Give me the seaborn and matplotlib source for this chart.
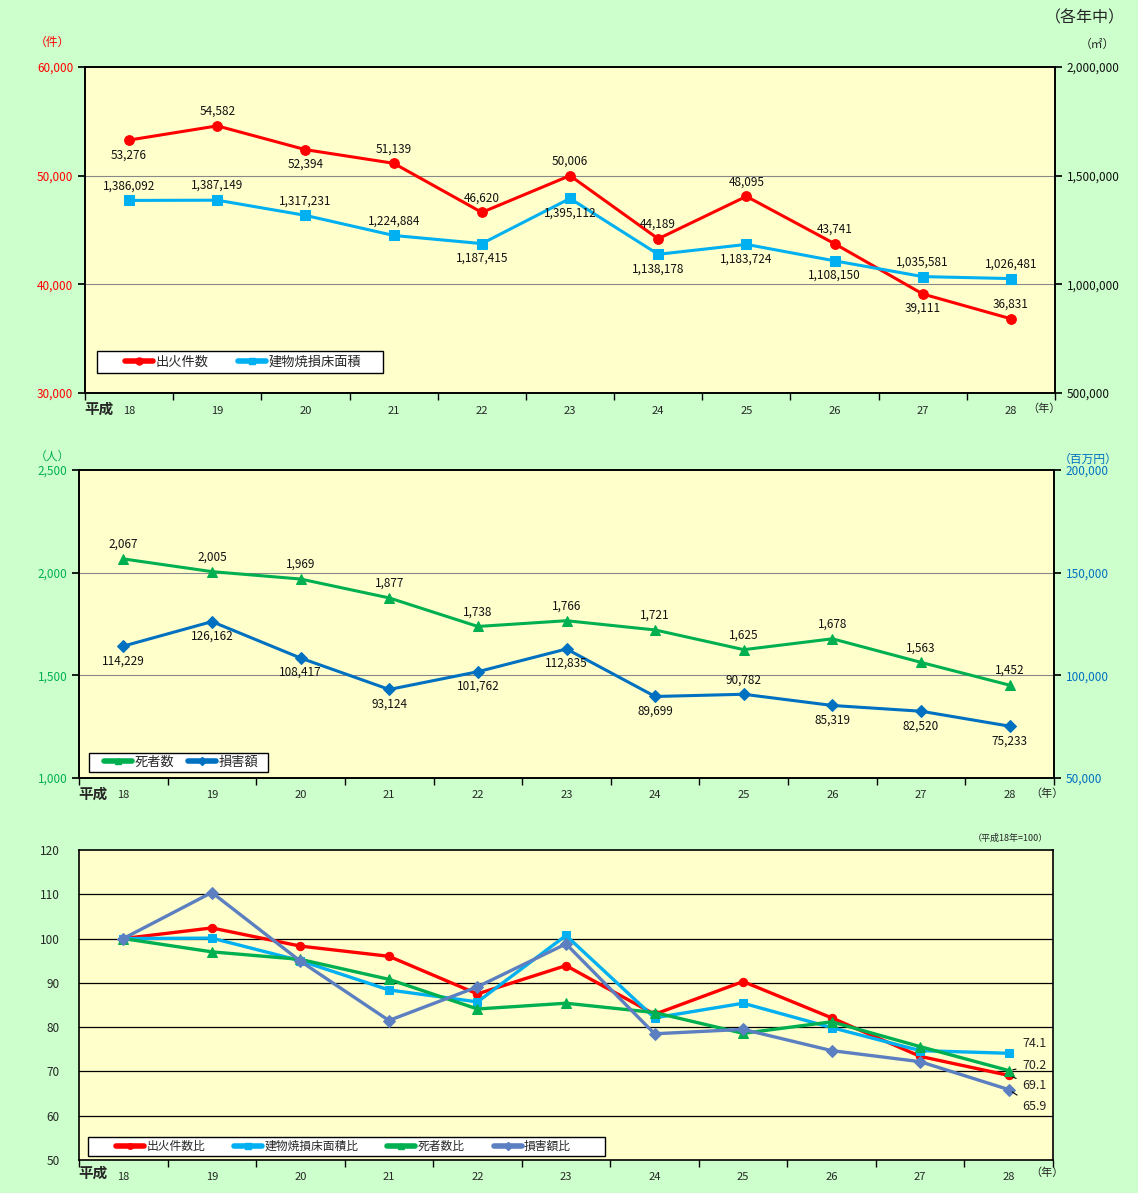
import matplotlib
matplotlib.use("Agg")
import matplotlib.pyplot as plt
import seaborn as sns
import numpy as np
import pandas as pd
from matplotlib.lines import Line2D
from matplotlib.patches import Rectangle

sns.set_theme(style="white")
plt.rcParams['font.family'] = ['Noto Sans CJK JP', 'DejaVu Sans']

years = ["18", "19", "20", "21", "22", "23", "24", "25", "26", "27", "28"]
fires = [53276, 54582, 52394, 51139, 46620, 50006, 44189, 48095, 43741, 39111, 36831]
area = [1386092, 1387149, 1317231, 1224884, 1187415, 1395112, 1138178, 1183724, 1108150, 1035581, 1026481]
deaths = [2067, 2005, 1969, 1877, 1738, 1766, 1721, 1625, 1678, 1563, 1452]
damage = [114229, 126162, 108417, 93124, 101762, 112835, 89699, 90782, 85319, 82520, 75233]
fires_ratio = [100, 102.4, 98.3, 96.0, 87.5, 93.9, 82.9, 90.3, 82.1, 73.4, 69.1]
area_ratio = [100, 100.1, 95.0, 88.4, 85.7, 100.7, 82.1, 85.4, 79.9, 74.7, 74.1]
deaths_ratio = [100, 97.0, 95.3, 90.8, 84.1, 85.4, 83.3, 78.6, 81.2, 75.6, 70.2]
damage_ratio = [100, 110.4, 94.9, 81.5, 89.1, 98.8, 78.5, 79.5, 74.7, 72.2, 65.9]

# label placement: 1 = above, -1 = below
fires_pos = [-1, 1, -1, 1, 1, 1, 1, 1, 1, -1, 1]
area_pos = [1, 1, 1, 1, -1, -1, -1, -1, -1, 1, 1]
deaths_pos = [1] * 11
damage_pos = [-1, -1, -1, -1, -1, -1, -1, 1, -1, -1, -1]

RED = "#FF0000"
CYAN = "#00B0F0"
GREEN = "#00B050"
BLUE = "#0070C0"
STEEL = "#5B7FC0"
BG = "#CCFFCC"
PANEL = "#FFFFCC"

W, H = 1138, 1193
fig = plt.figure(figsize=(W / 100, H / 100), dpi=100, facecolor=BG)

x = np.arange(len(years))
df = pd.DataFrame({"x": x, "fires": fires, "area": area, "deaths": deaths, "damage": damage,
                   "fr": fires_ratio, "ar": area_ratio, "dr": deaths_ratio, "dmr": damage_ratio})

TICK_FS = 8.5
LABEL_FS = 8.5


def rect(l, t, r, b):
    return [l / W, 1 - b / H, (r - l) / W, (b - t) / H]


def setup_x(ax, heisei_x, nen_x, label_y):
    ax.set_xlim(-0.5, len(years) - 0.5)
    ax.set_xticks(np.arange(-0.5, len(years) + 0.5, 1))
    ax.set_xticklabels([])
    ax.set_xticks(x, minor=True)
    ax.set_xticklabels(years, minor=True, fontsize=8)
    ax.tick_params(axis="x", which="major", direction="out", length=5, width=1, color="black", bottom=True)
    ax.tick_params(axis="x", which="minor", length=0, pad=9)
    fig.text(heisei_x / W, 1 - label_y / H, "平成", fontsize=10.5, ha="left", va="center", fontweight="bold")
    fig.text(nen_x / W, 1 - label_y / H, "（年）", fontsize=8, ha="left", va="center")


def style_axes(ax):
    ax.set_facecolor(PANEL)
    for s in ax.spines.values():
        s.set_color("black")
        s.set_linewidth(1.2)


def annot(ax, xs, ys, pos, fmt="{:,}", dy=10.5):
    for xi, yi, p in zip(xs, ys, pos):
        ax.annotate(fmt.format(yi), (xi, yi), xytext=(0, dy * p), textcoords="offset points",
                    ha="center", va="center", fontsize=LABEL_FS, color="#111111")


def boxed_legend(ax, handles, labels, box, first_x, fs, colsp):
    l, t, r, b = box
    ax.add_patch(Rectangle((l / W, 1 - b / H), (r - l) / W, (b - t) / H, transform=fig.transFigure,
                           facecolor="white", edgecolor="black", lw=1, zorder=4, clip_on=False))
    leg = ax.legend(handles, labels, loc="center left", bbox_to_anchor=(first_x / W, 1 - (t + b) / 2 / H),
                    bbox_transform=fig.transFigure, ncol=len(handles), fontsize=fs, frameon=False,
                    handlelength=28 * 0.72 / fs, handletextpad=0.2, columnspacing=colsp,
                    borderpad=0, borderaxespad=0)
    leg.set_zorder(6)
    return leg

# ---------------- Panel 1 ----------------
ax1 = fig.add_axes(rect(85, 67, 1055, 393))
style_axes(ax1)
ax1.set_ylim(30000, 60000)
ax1.set_yticks([30000, 40000, 50000, 60000])
ax1.set_yticklabels(["30,000", "40,000", "50,000", "60,000"], color=RED, fontsize=TICK_FS)
for yv in [40000, 50000]:
    ax1.axhline(yv, color="#888888", lw=0.8, zorder=0)
ax1.tick_params(axis="y", direction="out", length=5, left=True, color="black")
sns.lineplot(data=df, x="x", y="fires", ax=ax1, color=RED, lw=2.2, marker="o", markersize=7,
             markeredgecolor=RED, zorder=3)
ax1.set_xlabel(""); ax1.set_ylabel("")
setup_x(ax1, 84, 1027, 409)
annot(ax1, x, fires, fires_pos)

ax1b = ax1.twinx()
ax1b.set_ylim(500000, 2000000)
ax1b.set_yticks([500000, 1000000, 1500000, 2000000])
ax1b.set_yticklabels(["500,000", "1,000,000", "1,500,000", "2,000,000"], fontsize=TICK_FS, color="#111111")
ax1b.tick_params(axis="y", direction="out", length=5, right=True, color="black")
sns.lineplot(data=df, x="x", y="area", ax=ax1b, color=CYAN, lw=2.2, marker="s", markersize=6.5,
             markeredgecolor=CYAN)
ax1b.set_xlabel(""); ax1b.set_ylabel("")
for s in ax1b.spines.values():
    s.set_color("black"); s.set_linewidth(1.2)
annot(ax1b, x, area, area_pos)
ax1b.set_xlim(-0.5, len(years) - 0.5)

h1 = [Line2D([], [], color=RED, lw=4, marker="o", markersize=5),
      Line2D([], [], color=CYAN, lw=4, marker="s", markersize=5)]
boxed_legend(ax1b, h1, ["出火件数", "建物焼損床面積"], (97, 351, 383, 373), 125, 9.5, 2.2)

fig.text(52 / W, 1 - 42 / H, "（件）", color=RED, fontsize=8.5, ha="center", va="center")
fig.text(1085 / W, 1 - 18 / H, "（各年中）", fontsize=11.5, ha="center", va="center")
fig.text(1097 / W, 1 - 44 / H, "（㎡）", fontsize=8.5, ha="center", va="center")

# ---------------- Panel 2 ----------------
ax2 = fig.add_axes(rect(79, 470, 1054, 778))
style_axes(ax2)
ax2.set_ylim(1000, 2500)
ax2.set_yticks([1000, 1500, 2000, 2500])
ax2.set_yticklabels(["1,000", "1,500", "2,000", "2,500"], color=GREEN, fontsize=TICK_FS)
for yv in [1500, 2000]:
    ax2.axhline(yv, color="#888888", lw=0.8, zorder=0)
ax2.tick_params(axis="y", direction="out", length=5, left=True, color="black")
sns.lineplot(data=df, x="x", y="deaths", ax=ax2, color=GREEN, lw=2.2, marker="^", markersize=7.5,
             markeredgecolor=GREEN, zorder=3)
ax2.set_xlabel(""); ax2.set_ylabel("")
setup_x(ax2, 78, 1030, 794)
annot(ax2, x, deaths, deaths_pos)

ax2b = ax2.twinx()
ax2b.set_ylim(50000, 200000)
ax2b.set_yticks([50000, 100000, 150000, 200000])
ax2b.set_yticklabels(["50,000", "100,000", "150,000", "200,000"], fontsize=TICK_FS, color=BLUE)
ax2b.tick_params(axis="y", direction="out", length=5, right=True, color="black")
sns.lineplot(data=df, x="x", y="damage", ax=ax2b, color=BLUE, lw=2.2, marker="D", markersize=6.5,
             markeredgecolor=BLUE)
ax2b.set_xlabel(""); ax2b.set_ylabel("")
for s in ax2b.spines.values():
    s.set_color("black"); s.set_linewidth(1.2)
annot(ax2b, x, damage, damage_pos)
ax2b.set_xlim(-0.5, len(years) - 0.5)

h2 = [Line2D([], [], color=GREEN, lw=4, marker="^", markersize=5),
      Line2D([], [], color=BLUE, lw=4, marker="D", markersize=4)]
boxed_legend(ax2b, h2, ["死者数", "損害額"], (89, 753, 268, 772), 104, 9.5, 1.05)

fig.text(52 / W, 1 - 456 / H, "（人）", color=GREEN, fontsize=8.5, ha="center", va="center")
fig.text(1088 / W, 1 - 459 / H, "（百万円）", color=BLUE, fontsize=8.5, ha="center", va="center")

# ---------------- Panel 3 ----------------
ax3 = fig.add_axes(rect(79, 850, 1053, 1160))
style_axes(ax3)
ax3.set_ylim(50, 120)
ax3.set_yticks(np.arange(50, 121, 10))
ax3.set_yticklabels([str(v) for v in range(50, 121, 10)], fontsize=TICK_FS)
for yv in range(60, 120, 10):
    ax3.axhline(yv, color="black", lw=0.9, zorder=0)
ax3.tick_params(axis="y", length=0, pad=14)
series3 = [("fr", RED, "o", 6, "出火件数比"), ("ar", CYAN, "s", 6, "建物焼損床面積比"),
           ("dr", GREEN, "^", 7, "死者数比"), ("dmr", STEEL, "D", 6, "損害額比")]
for col, c, m, ms, lab in series3:
    sns.lineplot(data=df, x="x", y=col, ax=ax3, color=c, lw=2.4, marker=m, markersize=ms,
                 markeredgecolor=c)
ax3.set_xlabel(""); ax3.set_ylabel("")
setup_x(ax3, 78, 1030, 1173)

last = len(years) - 1
end_labels = [(area_ratio[last], 76.2, False), (deaths_ratio[last], 71.3, True),
              (fires_ratio[last], 66.8, True), (damage_ratio[last], 62.1, True)]
for yv, ty, lead in end_labels:
    kw = dict(arrowprops=dict(arrowstyle="-", color="black", lw=0.8, shrinkA=2, shrinkB=3)) if lead else {}
    ax3.annotate(f"{yv:.1f}", (last, yv), xytext=(last + 0.15, ty), textcoords="data",
                 fontsize=9, ha="left", va="center", **kw)

h3 = [Line2D([], [], color=c, lw=4, marker=m, markersize=4) for _, c, m, _, _ in series3]
boxed_legend(ax3, h3, [s[4] for s in series3], (88, 1137, 605, 1156), 116, 8.5, 2.45)

fig.text(1010 / W, 1 - 838 / H, "（平成18年=100）", fontsize=6.5, ha="center", va="center")

fig.savefig("out.png", dpi=100, facecolor=BG)
